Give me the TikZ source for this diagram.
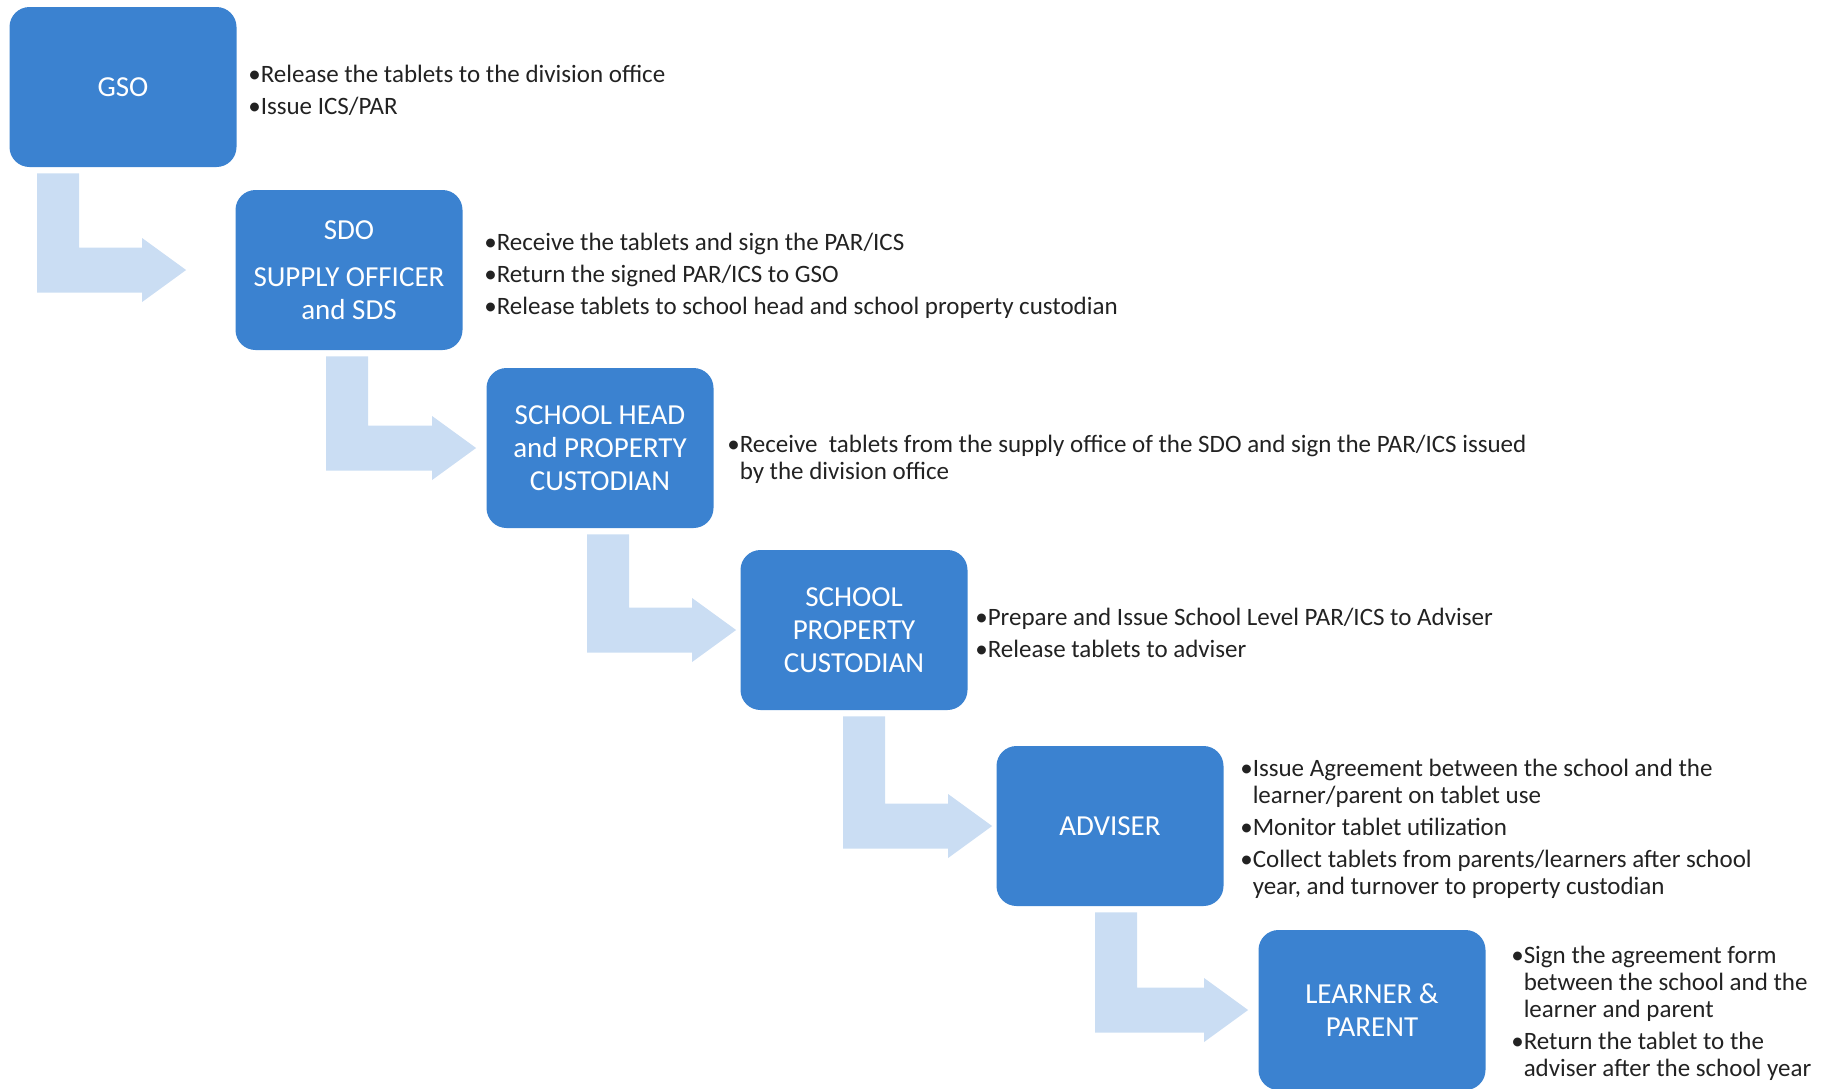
\documentclass[tikz,border=0pt]{standalone}
\usepackage{fontspec}
\setmainfont{Carlito}
\usetikzlibrary{positioning,calc}
\definecolor{boxblue}{HTML}{3B82D0}
\definecolor{flowblue}{HTML}{CADDF3}
\definecolor{dutytext}{HTML}{222222}

\tikzset{
    stepbox/.style = {fill = boxblue, rounded corners = 10pt, minimum width = 113.5pt, minimum height = 80pt,
        align = center, text = white, font = \fontsize{14.5}{16.5}\selectfont},
    duties/.style = {anchor = west, align = left, inner sep = 0pt, text = dutytext, yshift = -1.5pt,
        font = \fontsize{12.5}{13.5}\selectfont},
    flowfill/.style = {fill = flowblue}
}

% bent arrow: from box, to box, offset of the bar, gap before the tip
\newcommand{\flow}[4]{%
    \fill [flowfill] let \p1 = (#1.south west), \p2 = (#2.west) in
        (\x1 + #3, \y1 - 3pt) -- (\x1 + #3 + 21pt, \y1 - 3pt) -- (\x1 + #3 + 21pt, \y2 + 11.25pt)
        -- (\x2 - #4 - 22pt, \y2 + 11.25pt) -- (\x2 - #4 - 22pt, \y2 + 16pt) -- (\x2 - #4, \y2)
        -- (\x2 - #4 - 22pt, \y2 - 16pt) -- (\x2 - #4 - 22pt, \y2 - 11.25pt)
        -- (\x1 + #3, \y2 - 11.25pt) -- cycle;
}

\begin{document}
\begin{tikzpicture}[x = 0.5pt, y = -0.5pt]
        \useasboundingbox (0, 0) rectangle (1826, 1088);

        % Boxes
        \node [stepbox] (gso) at (123, 87) {GSO};
        \node [stepbox] (sdo) at (349, 270) {SDO\\[7pt]SUPPLY OFFICER\\and SDS};
        \node [stepbox] (head) at (600, 448) {SCHOOL HEAD\\and PROPERTY\\CUSTODIAN};
        \node [stepbox] (custodian) at (854, 630) {SCHOOL\\PROPERTY\\CUSTODIAN};
        \node [stepbox] (adviser) at (1110, 826) {ADVISER};
        \node [stepbox] (learner) at (1372, 1010) {LEARNER \&\\PARENT};

        % Duties
        \node [duties, right = 5.5pt of gso] (gsoDuties) {•Release the tablets to the division office\\[2.5pt]•Issue ICS/PAR};
        \node [duties, right = 10.5pt of sdo, yshift = -1.5pt] (sdoDuties) {•Receive the tablets and sign the PAR/ICS\\[2.5pt]•Return the signed PAR/ICS to GSO\\[2.5pt]•Release tablets to school head and school property custodian};
        \node [duties, right = 6.5pt of head, yshift = -4pt] (headDuties) {•Receive\ \ tablets from the supply office of the SDO and sign the PAR/ICS issued\\\hphantom{•}by the division office};
        \node [duties, right = 3.5pt of custodian] (custodianDuties) {•Prepare and Issue School Level PAR/ICS to Adviser\\[2.5pt]•Release tablets to adviser};
        \node [duties, right = 8pt of adviser] (adviserDuties) {•Issue Agreement between the school and the\\\hphantom{•}learner/parent on tablet use\\[2.5pt]•Monitor tablet utilization\\[2.5pt]•Collect tablets from parents/learners after school\\\hphantom{•}year, and turnover to property custodian};
        \node [duties, right = 12.5pt of learner] (learnerDuties) {•Sign the agreement form\\\hphantom{•}between the school and the\\\hphantom{•}learner and parent\\[2.5pt]•Return the tablet to the\\\hphantom{•}adviser after the school year};

        % Arrows
        \flow{gso}{sdo}{14pt}{24.5pt}
        \flow{sdo}{head}{45.5pt}{5pt}
        \flow{head}{custodian}{50.5pt}{2pt}
        \flow{custodian}{adviser}{51.5pt}{2pt}
        \flow{adviser}{learner}{49.5pt}{5pt}

    \end{tikzpicture}
\end{document}
